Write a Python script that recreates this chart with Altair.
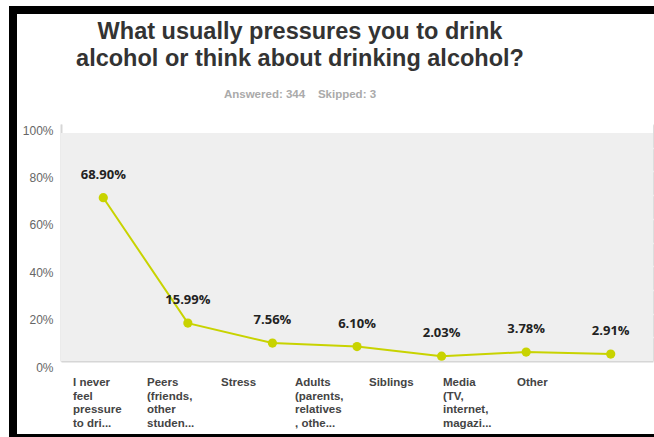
import altair as alt
import pandas as pd

# ---- data ----
categories = ["I never feel pressure to dri...", "Peers (friends, other studen...", "Stress",
              "Adults (parents, relatives, othe...", "Siblings", "Media (TV, internet, magazi...", "Other"]
tick_labels = ["I never\nfeel\npressure\nto dri...", "Peers\n(friends,\nother\nstuden...", "Stress",
               "Adults\n(parents,\nrelatives\n, othe...", "Siblings", "Media\n(TV,\ninternet,\nmagazi...", "Other"]
values = [68.90, 15.99, 7.56, 6.10, 2.03, 3.78, 2.91]
y_label_ticks = [0, 20, 40, 60, 80, 100]
y_grid_ticks = [0, 10, 20, 30, 40, 50, 60, 70, 80, 90, 100]

title_lines = ["What usually pressures you to drink", "alcohol or think about drinking alcohol?"]
subtitle = "Answered: 344\u00a0\u00a0\u00a0\u00a0Skipped: 3"

df = pd.DataFrame({"category": categories, "value": values})
lab_df = pd.DataFrame({"idx": list(range(len(tick_labels))), "label": tick_labels})

W, H = 592, 237
LINE = "#c8d300"

x_enc = alt.X("category:N", sort=categories,
              scale=alt.Scale(type="point", padding=0.5),
              axis=alt.Axis(title=None, labels=False, ticks=False, grid=False,
                            domain=True, domainColor="#d6d6d6", domainWidth=2))
x_noaxis = alt.X("category:N", sort=categories,
                 scale=alt.Scale(type="point", padding=0.5), axis=None)
y_scale = alt.Scale(domain=[0, 100], nice=False)
y_noaxis = alt.Y("value:Q", scale=y_scale, axis=None)

base = alt.Chart(df)

bg = alt.Chart(pd.DataFrame({"k": [0]})).mark_rect(color="#efefef").encode(
    x=alt.value(0), x2=alt.value(W), y=alt.value(9), y2=alt.value(H))

grid = base.mark_rule(opacity=0).encode(
    x=x_enc,
    y=alt.Y("value:Q", scale=y_scale,
            axis=alt.Axis(title=None, values=y_grid_ticks, labels=False, ticks=False,
                          domain=False, grid=True, gridColor="#ffffff", gridWidth=1.5,
                          orient="left")))

line = base.mark_line(color=LINE, strokeWidth=2).encode(
    x=x_noaxis,
    y=alt.Y("value:Q", scale=y_scale,
            axis=alt.Axis(title=None, values=y_label_ticks, labelExpr="datum.value + '%'",
                          ticks=False, grid=False, domain=True, domainColor="#d6d6d6",
                          domainWidth=2, labelFont="Liberation Sans", labelFontSize=12,
                          labelColor="#666666", labelPadding=8, labelOffset=6,
                          orient="left")))

pts = base.mark_point(filled=True, opacity=1, size=85, color=LINE).encode(
    x=x_noaxis, y=y_noaxis)

txt = base.transform_calculate(
    lab="format(datum.value, '.2f') + '%'"
).mark_text(font="Open Sans", fontWeight="bold", fontSize=13, color="#222222", dy=-23).encode(
    x=x_noaxis, y=y_noaxis, text="lab:N")

cat_labels = alt.Chart(lab_df).mark_text(
    align="left", baseline="top", lineBreak="\n", lineHeight=13.7,
    font="Liberation Sans", fontWeight="bold", fontSize=11.5, color="#444444"
).encode(
    x=alt.X("idx:Q", scale=alt.Scale(domain=[-0.162, 7.838], nice=False, zero=False), axis=None),
    y=alt.value(H + 16),
    text="label:N")

frame = alt.Chart(pd.DataFrame({"k": [0]}))
top_bar = frame.mark_rect(color="#000000").encode(
    x=alt.value(-52), x2=alt.value(W + 1), y=alt.value(-118), y2=alt.value(-110))
left_bar = frame.mark_rect(color="#000000").encode(
    x=alt.value(-52), x2=alt.value(-44), y=alt.value(-118), y2=alt.value(H + 76))
bottom_bar = frame.mark_rect(color="#000000").encode(
    x=alt.value(-52), x2=alt.value(W + 1), y=alt.value(H + 73), y2=alt.value(H + 76))

chart = alt.layer(
    bg, grid, line, pts, txt, cat_labels, top_bar, left_bar, bottom_bar
).resolve_scale(x="independent").resolve_axis(y="independent").properties(
    width=W, height=H,
    title=alt.TitleParams(
        text=title_lines, subtitle=subtitle, anchor="middle", frame="group", dx=-57,
        font="Liberation Sans", fontSize=23.5, fontWeight="bold", color="#333333",
        lineHeight=27, subtitleFont="Liberation Sans", subtitleFontSize=11.5,
        subtitleFontWeight="bold", subtitleColor="#aaaaaa", subtitlePadding=18, offset=-94),
    autosize=alt.AutoSizeParams(type="none"),
    padding={"left": 61, "top": 124, "right": 1, "bottom": 76},
).configure_view(stroke=None).configure(background="#ffffff")

chart.save("out.html", embed_options={"renderer": "svg", "actions": False})
